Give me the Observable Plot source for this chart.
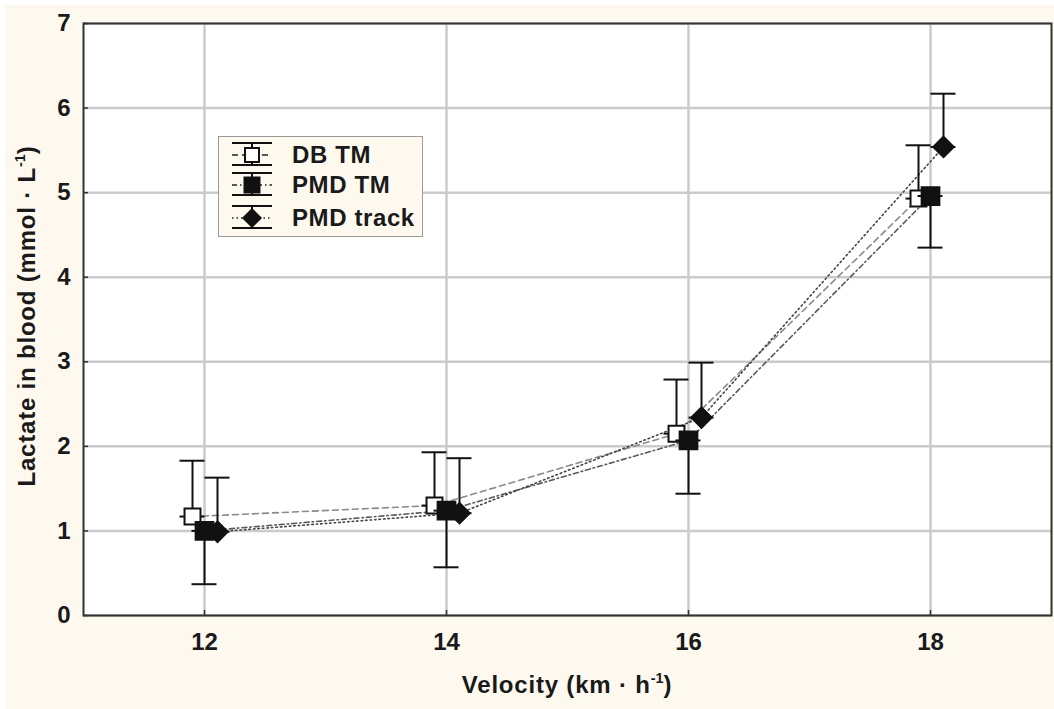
<!DOCTYPE html>
<html>
<head>
<meta charset="utf-8">
<script src="https://cdn.jsdelivr.net/npm/d3@7"></script>
<script src="https://cdn.jsdelivr.net/npm/@observablehq/plot@0.6"></script>
<style>
  html, body { margin: 0; padding: 0; background: #ffffff; }
  #page { position: relative; width: 1054px; height: 709px; overflow: hidden; font-family: "Liberation Sans", Arial, sans-serif; color: #1a1a1a; }
  #cream { position: absolute; left: 5px; top: 5px; right: 0; bottom: 0; background: #fdf9ef; }
  #chart { position: absolute; left: 0; top: 0; }
  .axlabel { position: absolute; font-weight: bold; font-size: 24px; line-height: 24px; white-space: nowrap; letter-spacing: 0.8px; }
  .axlabel sup { font-size: 0.6em; line-height: 0; vertical-align: 0.7em; letter-spacing: 0; }
  #xlabel { left: 567px; top: 673px; transform: translateX(-50%); }
  #ylabel { left: 27px; top: 316px; transform: translate(-50%, -50%) rotate(-90deg); }
  #legend { position: absolute; left: 218px; top: 136px; width: 205px; height: 101px; box-sizing: border-box; background: #fdf9ef; border: 1px solid #9a9a9a; }
  #legend svg { position: absolute; left: 0; top: 0; }
  .legtext { position: absolute; left: 73px; font-weight: bold; font-size: 24px; line-height: 24px; letter-spacing: 0.6px; white-space: nowrap; }
</style>
</head>
<body>
<div id="page">
  <div id="cream"></div>
  <div id="chart"></div>
  <div id="xlabel" class="axlabel">Velocity (km · h<sup>-1</sup>)</div>
  <div id="ylabel" class="axlabel">Lactate in blood (mmol · L<sup>-1</sup>)</div>
  <div id="legend"></div>
</div>
<script>
// ---- data ----
const velocity = [12, 14, 16, 18];
const xTicks = [12, 14, 16, 18];
const yTicks = [0, 1, 2, 3, 4, 5, 6, 7];
const seriesNames = ["DB TM", "PMD TM", "PMD track"];

const dbTM      = [1.17, 1.30, 2.15, 4.93];
const dbTMUpper = [1.83, 1.93, 2.79, 5.56];   // error bar drawn upward

const pmdTM      = [1.00, 1.24, 2.07, 4.96];
const pmdTMLower = [0.37, 0.57, 1.44, 4.35];  // error bar drawn downward

const pmdTrack      = [0.99, 1.21, 2.34, 5.54];
const pmdTrackUpper = [1.63, 1.86, 2.99, 6.17]; // error bar drawn upward

// ---- styling per series ----
const ink = "#111";
const series = [
  {name: seriesNames[0], mean: dbTM, end: dbTMUpper, dx: -12, symbol: "square", r: 9, fill: "#ffffff", line: "#8a8a8a", dash: "6,4"},
  {name: seriesNames[1], mean: pmdTM, end: pmdTMLower, dx: 0, symbol: "square", r: 10, fill: ink, line: "#5a5a5a", dash: "5,3,1.5,3"},
  {name: seriesNames[2], mean: pmdTrack, end: pmdTrackUpper, dx: 13, symbol: "diamond2", r: 9.2, fill: ink, line: "#444", dash: "1.5,3"}
];
series.forEach(s => { s.rows = velocity.map((v, i) => ({v, mean: s.mean[i], end: s.end[i]})); });

const marks = [
  Plot.frame({fill: "#ffffff"}),
  Plot.gridX(xTicks, {stroke: "#cbcbcb", strokeOpacity: 1, strokeWidth: 2.5}),
  Plot.gridY(yTicks, {stroke: "#cbcbcb", strokeOpacity: 1, strokeWidth: 2.5}),
  // inward tick marks
  Plot.ruleX(xTicks, {x: d => d, y1: 0, y2: 0, insetTop: -5, stroke: "#333", strokeWidth: 1.5}),
  Plot.ruleY(yTicks, {y: d => d, x1: 11, x2: 11, insetRight: -5, stroke: "#333", strokeWidth: 1.5}),
  Plot.axisX(xTicks, {tickSize: 0, tickPadding: 17, tickFormat: d3.format("d"), fontSize: 24, fontWeight: "bold", fill: "#1a1a1a", label: null}),
  Plot.axisY(yTicks, {tickSize: 0, tickPadding: 13, tickFormat: d3.format("d"), fontSize: 24, fontWeight: "bold", fill: "#1a1a1a", label: null})
];
// connecting lines
for (const s of series) {
  marks.push(Plot.line(s.rows, {x: "v", y: "mean", dx: s.dx, stroke: s.line, strokeWidth: 1.6, strokeDasharray: s.dash}));
}
// error bars, caps, mean stubs and markers
for (const s of series) {
  marks.push(
    Plot.ruleX(s.rows, {x: "v", y1: "mean", y2: "end", dx: s.dx, stroke: ink, strokeWidth: 2}),
    Plot.ruleY(s.rows, {y: "end", x1: "v", x2: "v", dx: s.dx, insetLeft: -12.5, insetRight: -12.5, stroke: ink, strokeWidth: 2}),
    Plot.ruleY(s.rows, {y: "mean", x1: "v", x2: "v", dx: s.dx, insetLeft: -12.5, insetRight: -12.5, stroke: ink, strokeWidth: 2}),
    Plot.dot(s.rows, {x: "v", y: "mean", dx: s.dx, symbol: s.symbol, r: s.r, fill: s.fill, stroke: ink, strokeWidth: 2})
  );
}
marks.push(Plot.frame({stroke: "#333", strokeWidth: 2}));

const chart = Plot.plot({
  width: 1054,
  height: 709,
  marginLeft: 83,
  marginRight: 3,
  marginTop: 23,
  marginBottom: 94,
  style: {background: "transparent", fontFamily: "'Liberation Sans', Arial, sans-serif", overflow: "visible"},
  x: {domain: [11, 19]},
  y: {domain: [0, 7]},
  marks
});
document.getElementById("chart").appendChild(chart);

// ---- legend (inside the plot, top-left) ----
const legend = document.getElementById("legend");
const ns = "http://www.w3.org/2000/svg";
const lsvg = document.createElementNS(ns, "svg");
lsvg.setAttribute("width", 70); lsvg.setAttribute("height", 100);
const rowCenters = [18, 48, 81];
const cx = 33, half = 20;
function el(tag, attrs) { const e = document.createElementNS(ns, tag); for (const k in attrs) e.setAttribute(k, attrs[k]); lsvg.appendChild(e); return e; }
series.forEach((s, i) => {
  const cy = rowCenters[i];
  el("line", {x1: cx - half, x2: cx + half, y1: cy, y2: cy, stroke: "#222", "stroke-width": 1.6, "stroke-dasharray": s.dash});
  el("line", {x1: cx, x2: cx, y1: cy - 12, y2: cy + 10, stroke: ink, "stroke-width": 2});
  el("line", {x1: cx - half, x2: cx + half, y1: cy - 12, y2: cy - 12, stroke: ink, "stroke-width": 2});
  el("line", {x1: cx - half, x2: cx + half, y1: cy + 10, y2: cy + 10, stroke: ink, "stroke-width": 2});
  if (s.symbol === "square") {
    const w = i === 0 ? 14 : 15;
    el("rect", {x: cx - w / 2, y: cy - w / 2, width: w, height: w, fill: s.fill, stroke: ink, "stroke-width": 2});
  } else {
    el("path", {d: `M${cx},${cy - 9}L${cx + 9},${cy}L${cx},${cy + 9}L${cx - 9},${cy}Z`, fill: ink, stroke: ink, "stroke-width": 1.5});
  }
  const t = document.createElement("div");
  t.className = "legtext";
  t.style.top = (cy - 12) + "px";
  t.textContent = s.name;
  legend.appendChild(t);
});
legend.appendChild(lsvg);
</script>
</body>
</html>
